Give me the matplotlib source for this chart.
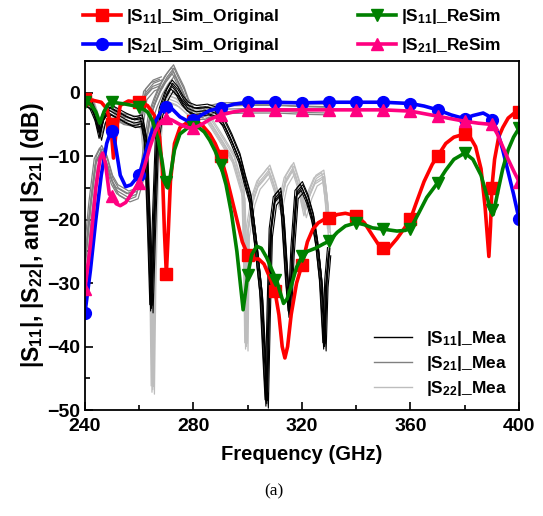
import matplotlib
matplotlib.use("Agg")
import matplotlib.pyplot as plt
from matplotlib.lines import Line2D
from matplotlib.ticker import MultipleLocator

plt.rcParams['font.family'] = ['Liberation Sans', 'DejaVu Sans']
plt.rcParams['font.weight'] = 'bold'
plt.rcParams['mathtext.fontset'] = 'custom'
plt.rcParams['mathtext.bf'] = 'Liberation Sans:bold'
plt.rcParams['mathtext.rm'] = 'Liberation Sans:bold'
plt.rcParams['mathtext.default'] = 'bf'

# simulated curves, markers every 10 GHz
marker_freq = [240, 250, 260, 270, 280, 290, 300, 310, 320, 330, 340, 350, 360, 370, 380, 390, 400]
s11_orig_markers = [-1.0, -5.0, -1.5, -28.6, -4.5, -10.0, -25.5, -31.2, -27.1, -19.8, -19.4, -24.5, -19.9, -10.0, -6.5, -15.0, -3.0]
s21_orig_markers = [-34.7, -6.1, -12.9, -2.2, -4.3, -2.4, -1.5, -1.5, -1.6, -1.5, -1.5, -1.5, -1.7, -2.7, -4.1, -4.3, -19.9]
s11_resim_markers = [-1.5, -1.5, -2.2, -14.0, -5.4, -11.4, -28.7, -29.5, -25.8, -23.4, -20.5, -21.5, -21.4, -14.2, -9.5, -18.5, -5.6]
s21_resim_markers = [-30.9, -16.3, -14.2, -4.0, -5.6, -3.5, -2.7, -2.7, -2.7, -2.7, -2.7, -2.7, -2.9, -3.7, -4.5, -5.0, -14.0]

s11_orig_f = [240, 243, 246, 248, 249.5, 250.5, 251.5, 253, 256, 260, 263, 265.5, 267.5, 268.5, 269.3,
              270, 270.7, 271.5, 273, 275, 278, 280, 283, 286, 288, 290, 292, 294, 296, 298, 300, 302,
              304, 306, 308, 310, 311.5, 312.7, 313.7, 314.7, 316, 318, 320, 322, 324, 326, 328, 330,
              333, 336, 340, 343, 346, 348, 350, 352, 355, 358, 360, 362, 365, 368, 370, 373, 376, 380,
              382, 384, 386, 387.5, 388.9, 389.5, 390, 391, 392.5, 394, 396, 398, 400]
s11_orig_db = [-1.0, -1.2, -1.5, -2.5, -5.0, -10.3, -6.0, -2.0, -1.3, -1.5, -2.0, -3.5, -7.0, -12.0, -22.0,
               -28.6, -22.0, -14.0, -8.0, -5.5, -4.6, -4.5, -5.0, -6.5, -8.0, -10.0, -13.0, -16.5, -20.0, -23.5, -25.5, -26.2,
               -26.2, -27.0, -29.0, -31.2, -35.0, -40.0, -41.8, -40.0, -35.0, -30.0, -27.1, -23.5, -21.5, -20.5, -20.0, -19.8,
               -19.2, -19.0, -19.4, -20.5, -22.5, -23.8, -24.5, -24.5, -23.0, -21.2, -19.9, -17.5, -14.0, -11.3, -10.0, -8.0, -7.0, -6.5,
               -7.0, -8.5, -12.0, -18.0, -25.8, -21.0, -15.0, -10.5, -7.0, -5.5, -4.0, -3.3, -3.0]

s21_orig_f = [240, 242, 244, 246, 248, 249.5, 250.5, 251.5, 253, 255, 257, 260, 262, 264, 266, 268, 270,
              272, 275, 278, 280, 283, 286, 290, 295, 300, 310, 320, 330, 340, 350, 360, 365, 370, 375,
              380, 383, 386.8, 388.5, 390, 392, 394, 396, 398, 400]
s21_orig_db = [-34.7, -28.0, -20.0, -13.0, -8.0, -6.1, -6.5, -9.0, -13.0, -14.8, -14.5, -12.9, -10.0, -7.0, -4.5, -3.0, -2.2,
               -2.5, -3.8, -4.5, -4.3, -3.5, -2.8, -2.4, -1.8, -1.5, -1.5, -1.6, -1.5, -1.5, -1.5, -1.7, -2.1, -2.7, -3.5,
               -4.1, -3.6, -3.2, -3.6, -4.3, -6.0, -9.0, -12.5, -16.0, -19.9]

s11_resim_f = [240, 242, 244, 245.5, 247, 248.5, 250, 255, 260, 263, 265, 267, 268.5, 269.5, 270.5, 271.5,
               273, 275, 278, 280, 282, 284, 286, 288, 290, 292, 294, 296, 297.5, 298.3, 299.3, 300, 301.5,
               303.3, 305, 307, 309, 310.6, 312, 313.2, 314.5, 316, 318, 320, 322, 325, 328, 330, 333, 336,
               340, 343, 346, 350, 355, 358, 360, 363, 366, 370, 373, 376, 380, 383, 386, 388, 389.5, 390.5,
               392, 394, 396, 398, 400]
s11_resim_db = [-1.5, -1.8, -3.0, -4.8, -3.0, -1.8, -1.5, -1.8, -2.2, -3.0, -4.5, -7.5, -11.0, -14.0, -15.0, -13.0,
                -9.0, -6.5, -5.5, -5.4, -5.5, -6.2, -7.5, -9.2, -11.4, -14.5, -19.0, -25.0, -31.0, -34.2, -31.0, -28.7, -25.5,
                -24.2, -24.5, -26.0, -28.0, -29.5, -31.5, -33.2, -32.5, -30.5, -27.5, -25.8, -25.0, -24.5, -23.8, -23.4, -22.0, -21.0,
                -20.5, -20.8, -21.3, -21.5, -21.8, -21.7, -21.4, -19.0, -16.5, -14.2, -12.2, -10.5, -9.5, -10.5, -13.0, -16.0, -18.5, -19.2,
                -16.0, -12.0, -9.0, -7.0, -5.6]

s21_resim_f = [240, 242, 244, 245.5, 246.5, 247.5, 249, 250, 251.5, 253, 255, 257, 260, 262, 264, 266, 268,
               270, 272, 275, 278, 280, 283, 286, 290, 295, 300, 310, 320, 330, 340, 350, 360, 365, 370,
               375, 380, 385, 390, 392, 394, 396, 398, 400]
s21_resim_db = [-30.9, -24.0, -15.0, -10.5, -9.5, -11.0, -16.0, -16.3, -17.5, -17.8, -17.3, -16.0, -14.2, -11.5, -8.5, -6.0, -4.5,
                -4.0, -4.3, -5.0, -5.5, -5.6, -5.0, -4.2, -3.5, -3.0, -2.7, -2.7, -2.7, -2.7, -2.7, -2.7, -2.9, -3.3, -3.7,
                -4.1, -4.5, -4.8, -5.0, -6.5, -8.5, -10.5, -12.3, -14.0]

mea_s11_f = [240, 242, 244, 245.5, 247, 249, 252, 255, 258, 261, 262.5, 263.5, 264.5, 265.5, 266.5, 268,
             270, 272, 274, 276, 278, 281, 285, 288, 291, 294, 297, 299, 301, 303, 305, 306.5, 307, 307.7,
             308.5, 310, 312, 313, 314.5, 315.5, 316.5, 318, 320, 322, 324, 325.5, 327, 328.3, 329, 330]
mea_s11_db = [-1.5, -2.0, -4.0, -6.8, -4.0, -2.8, -3.5, -4.2, -4.8, -4.5, -8.0, -20.0, -34.0, -20.0, -8.0, -3.0,
              -0.5, 1.0, 0.0, -1.5, -2.5, -3.0, -2.8, -3.2, -4.8, -7.5, -10.6, -14.0, -17.0, -24.0, -32.0, -45.0, -49.0, -35.0,
              -22.0, -17.0, -16.0, -20.0, -30.0, -35.0, -25.0, -16.0, -15.0, -17.0, -20.0, -24.0, -30.0, -40.0, -30.0, -25.0]

mea_s21_f = [240, 242, 244, 246, 248, 250, 252, 256, 259, 261, 262.5, 264, 266, 268, 270, 272.5, 274,
             276.3, 278, 280, 283.6, 286, 290, 300, 310, 320, 330]
mea_s21_db = [-27.0, -18.0, -11.0, -9.3, -11.0, -14.0, -15.5, -16.5, -16.0, -13.0, -8.0, -4.0, -1.5, 0.5, 2.0, 3.4, 2.0,
              0.0, -2.0, -3.5, -3.5, -3.0, -2.6, -2.5, -2.5, -2.7, -2.8]
mea_s21_top_f = [240, 243, 245.5, 247, 249, 253.6, 259.8, 261, 262.2, 265, 268]
mea_s21_top_db = [-1.3, -2.5, -6.0, -4.0, -2.7, -4.3, -4.8, -4.0, -0.4, 1.0, 1.5]

mea_s22_f = [240, 243, 245.5, 248, 252, 257, 261, 263, 264.5, 265, 265.5, 266.5, 268, 271, 274, 278, 282,
             285, 287, 291, 294.7, 297, 298.4, 299, 299.5, 300, 302, 304, 306, 308, 310, 312, 314, 316.8,
             319, 321, 323, 325, 327.9, 329, 330]
mea_s22_db = [-1.2, -2.0, -5.5, -3.0, -4.0, -4.5, -5.0, -15.0, -30.0, -46.8, -30.0, -12.0, -4.0, -1.0, -1.5, -3.0, -3.0,
              -4.0, -5.3, -8.0, -10.6, -14.0, -16.0, -25.0, -40.0, -22.0, -17.0, -14.5, -13.5, -12.4, -15.0, -18.0, -14.0, -12.0,
              -15.0, -19.0, -16.0, -14.0, -13.2, -17.0, -22.0]

bundle_df = [-0.6, -0.3, 0.0, 0.3, 0.6, 0.15]
bundle_ddb = [0.6, -0.4, 0.0, 0.5, -0.7, 1.0]

fig = plt.figure(figsize=(5.43, 5.16), dpi=100)
ax = fig.add_axes([0.1565, 0.2054, 0.7993, 0.6764])

for df, ddb in zip(bundle_df, bundle_ddb):
    ax.plot([f + df for f in mea_s22_f], [v + ddb for v in mea_s22_db], color='#bdbdbd', lw=0.9)
for df, ddb in zip(bundle_df, bundle_ddb):
    ax.plot([f + df for f in mea_s21_f], [v + ddb for v in mea_s21_db], color='#808080', lw=0.9)
    ax.plot([f + df for f in mea_s21_top_f], [v + ddb for v in mea_s21_top_db], color='#808080', lw=0.9)
for df, ddb in zip(bundle_df, bundle_ddb):
    ax.plot([f + df for f in mea_s11_f], [v + ddb for v in mea_s11_db], color='black', lw=0.8)

sims = [
    (s11_orig_f, s11_orig_db, s11_orig_markers, 'red', 's', r'|S$_{11}$|_Sim_Original'),
    (s21_orig_f, s21_orig_db, s21_orig_markers, 'blue', 'o', r'|S$_{21}$|_Sim_Original'),
    (s11_resim_f, s11_resim_db, s11_resim_markers, 'green', 'v', r'|S$_{11}$|_ReSim'),
    (s21_resim_f, s21_resim_db, s21_resim_markers, '#ff0080', '^', r'|S$_{21}$|_ReSim'),
]
handles = []
for f, db, mk, col, m, lab in sims:
    ax.plot(f, db, color=col, lw=2.6, solid_joinstyle='round')
    ax.plot(marker_freq, mk, ls='none', marker=m, color=col, ms=8.5)
    handles.append(Line2D([], [], color=col, lw=2.6, marker=m, ms=8.5, label=lab))

ax.set_xlim(240, 400)
ax.set_ylim(-50, 5)
ax.xaxis.set_major_locator(MultipleLocator(40))
ax.xaxis.set_minor_locator(MultipleLocator(20))
ax.yaxis.set_major_locator(MultipleLocator(10))
ax.yaxis.set_minor_locator(MultipleLocator(5))
ax.tick_params(which='both', direction='in', labelsize=14, width=1.2)
ax.tick_params(which='major', length=6)
ax.tick_params(which='minor', length=3.5)
ax.tick_params(axis='x', pad=6)
for lbl in ax.get_xticklabels() + ax.get_yticklabels():
    lbl.set_fontweight('bold')
for sp in ax.spines.values():
    sp.set_linewidth(1.3)
ax.set_xlabel('Frequency (GHz)', fontsize=14.5, fontweight='bold', labelpad=7)
ax.set_ylabel(r'|S$_{11}$|, |S$_{22}$|, and |S$_{21}$| (dB)', fontsize=16.5, fontweight='bold', labelpad=1)

leg1 = fig.legend(handles=handles[:2], loc='upper left', bbox_to_anchor=(0.124, 1.016), frameon=False,
                  fontsize=12.5, handlelength=2.2, labelspacing=0.55, handletextpad=0.3)
leg2 = fig.legend(handles=handles[2:], loc='upper left', bbox_to_anchor=(0.630, 1.016), frameon=False,
                  fontsize=12.5, handlelength=2.2, labelspacing=0.55, handletextpad=0.3)

mea_handles = [Line2D([], [], color='black', lw=1, label=r'|S$_{11}$|_Mea'),
               Line2D([], [], color='#808080', lw=1, label=r'|S$_{21}$|_Mea'),
               Line2D([], [], color='#bdbdbd', lw=1, label=r'|S$_{22}$|_Mea')]
ax.legend(handles=mea_handles, loc='lower right', frameon=False, fontsize=12.5, handlelength=2.2,
          labelspacing=0.35, borderaxespad=0.3)

fig.text(0.505, 0.047, '(a)', ha='center', va='center', fontsize=12.5, family='Liberation Serif', fontweight='normal')

fig.savefig('out.png', dpi=100)
